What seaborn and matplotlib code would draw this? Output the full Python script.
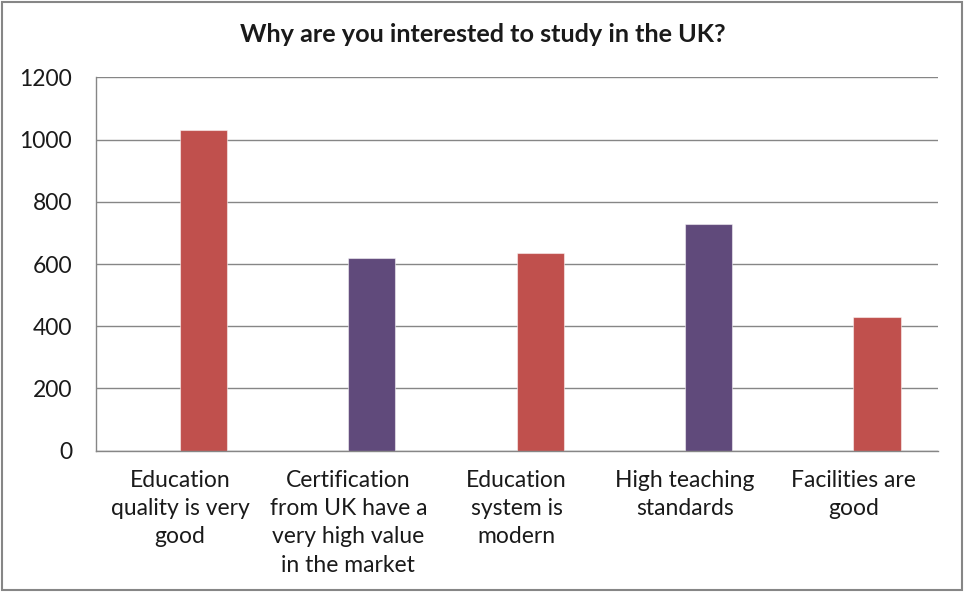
import matplotlib
matplotlib.use("Agg")
import matplotlib.pyplot as plt
from matplotlib.patches import Rectangle
import pandas as pd
import seaborn as sns

titulo = "Why are you interested to study in the UK?"
categorias = [
    "Education\nquality is very\ngood",
    "Certification\nfrom UK have a\nvery high value\nin the market",
    "Education\nsystem is\nmodern",
    "High teaching\nstandards",
    "Facilities are\ngood",
]
valores = [1030, 620, 635, 727, 430]
colores = ["#C0504D", "#604A7B", "#C0504D", "#604A7B", "#C0504D"]
yticks = [0, 200, 400, 600, 800, 1000, 1200]

GRIS = "#868686"
TEXTO = "#1a1a1a"

sns.set_style("white")
plt.rcParams["font.family"] = ["Lato", "DejaVu Sans"]

# dos series como en Excel: la primera vacía, por eso las barras quedan a la derecha
df = pd.DataFrame({
    "categoria": categorias * 2,
    "serie": ["hueco"] * len(categorias) + ["valor"] * len(categorias),
    "n": [0] * len(categorias) + valores,
})

fig = plt.figure(figsize=(9.64, 5.92), dpi=100)
ax = fig.add_axes([0.0993, 0.2387, 0.8734, 0.6307])

sns.barplot(data=df, x="categoria", y="n", hue="serie",
            hue_order=["hueco", "valor"], order=categorias,
            palette={"hueco": "white", "valor": "#C0504D"},
            width=0.56, dodge=True, linewidth=0, legend=False, ax=ax)

for barra, c in zip(ax.containers[1], colores):
    barra.set_facecolor(c)
    barra.set_edgecolor((1, 1, 1, 0.5))
    barra.set_linewidth(0.8)

ax.set_xlim(-0.5, len(categorias) - 0.5)
ax.set_ylim(0, 1200)
ax.set_yticks(yticks)
ax.set_yticklabels([str(v) for v in yticks], fontsize=16.5, color=TEXTO)
ax.set_xticks(range(len(categorias)))
ax.set_xticklabels(categorias, fontsize=16.5, color=TEXTO, linespacing=1.42)
ax.set_xticks([i - 0.5 for i in range(len(categorias) + 1)], minor=True)
ax.tick_params(axis="x", which="major", length=0, pad=14)
ax.tick_params(axis="x", which="minor", length=8, color=GRIS, width=1)
ax.tick_params(axis="y", length=8, color=GRIS, width=1, pad=9)
ax.set_xlabel("")
ax.set_ylabel("")

ax.yaxis.grid(True, color=GRIS, linewidth=1)
ax.set_axisbelow(True)
for lado in ["top", "right"]:
    ax.spines[lado].set_visible(False)
for lado in ["left", "bottom"]:
    ax.spines[lado].set_color(GRIS)
    ax.spines[lado].set_linewidth(1)

fig.text(0.501, 0.941, titulo, ha="center", va="center",
         fontsize=18.2, fontweight="bold", color=TEXTO)

# marco del área del gráfico
fig.patches.append(Rectangle((2 / 964, 2 / 592), 960 / 964, 588 / 592,
                             transform=fig.transFigure, fill=False,
                             edgecolor=GRIS, linewidth=1.5))

fig.savefig("out.png", dpi=100)
